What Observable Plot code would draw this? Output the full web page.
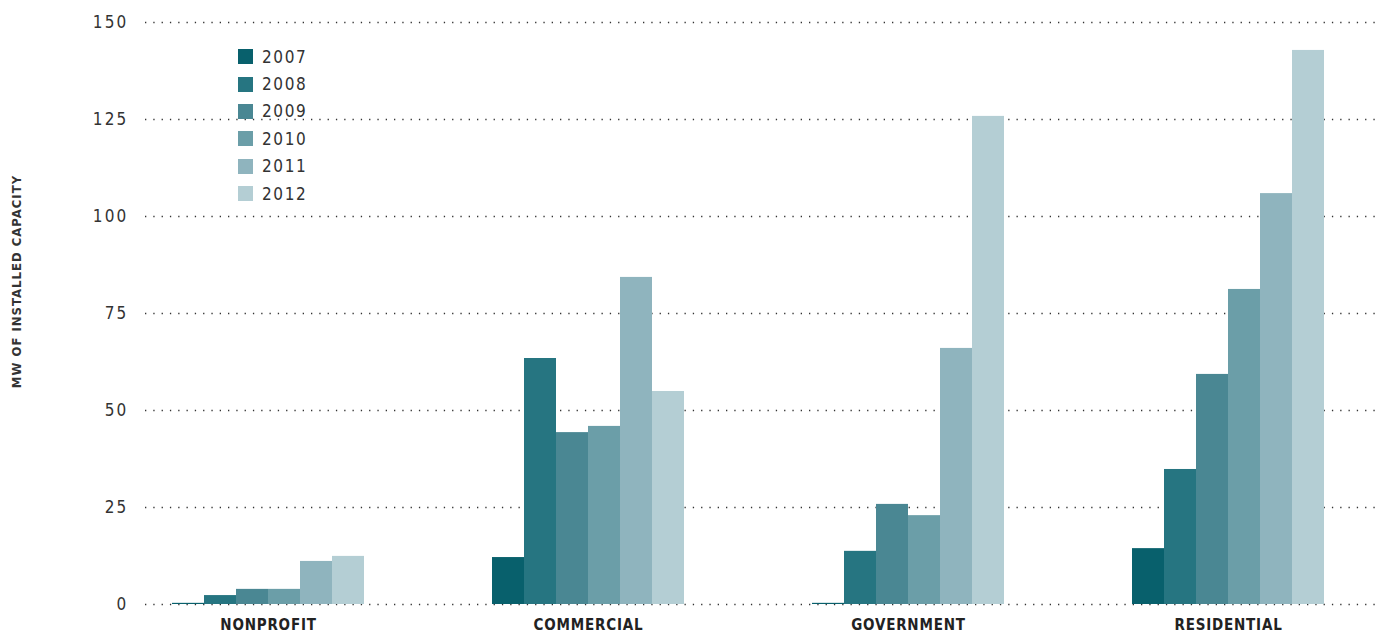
<!DOCTYPE html>
<html>
<head>
<meta charset="utf-8">
<script src="https://cdn.jsdelivr.net/npm/d3@7"></script>
<script src="https://cdn.jsdelivr.net/npm/@observablehq/plot@0.6"></script>
<style>
  html, body { margin: 0; padding: 0; background: #fff; overflow: hidden; }
  #wrap { position: relative; width: 1383px; height: 634px; }
  #wrap > svg { position: absolute; left: 0; top: 0; overflow: visible; }
  #legend { position: absolute; left: 238px; top: 43px; font-family: "Liberation Sans Narrow", "DejaVu Sans Condensed", sans-serif; font-size: 17px; color: #333; letter-spacing: 1.6px; }
  #legend .row { display: flex; align-items: center; height: 27.4px; }
  #legend .sw { width: 15px; height: 15px; margin-right: 9px; }
</style>
</head>
<body>
<div id="wrap"></div>
<script>
const categories = ["NONPROFIT", "COMMERCIAL", "GOVERNMENT", "RESIDENTIAL"];
const years = ["2007", "2008", "2009", "2010", "2011", "2012"];
const nonprofit   = [0.3, 2.3, 3.9, 3.9, 11.1, 12.4];
const commercial  = [12.1, 63.4, 44.3, 45.9, 84.3, 54.9];
const government  = [0.3, 13.7, 25.8, 22.9, 66.0, 125.8];
const residential = [14.4, 34.8, 59.3, 81.2, 105.9, 142.8];
const yTicks = [0, 25, 50, 75, 100, 125, 150];
const colors = ["#08606c", "#267581", "#4a8793", "#6b9ea8", "#8fb4be", "#b4ced4"];
const yTitle = "MW OF INSTALLED CAPACITY";

const series = [nonprofit, commercial, government, residential];
const rows = [];
categories.forEach((c, i) => years.forEach((y, j) => rows.push({cat: c, year: y, value: series[i][j]})));

const W = 1383, H = 634, MT = 22, MB = 30;
const font = '"Liberation Sans Narrow", "DejaVu Sans Condensed", sans-serif';

const grid = Plot.plot({
  width: W, height: H,
  marginTop: MT, marginBottom: MB, marginLeft: 145, marginRight: 8,
  style: {fontFamily: font, fontSize: "17px", color: "#333", background: "transparent"},
  x: {axis: null, domain: [0, 1]},
  y: {domain: [0, 150], ticks: yTicks, tickSize: 0, tickPadding: 17, label: null},
  marks: [
    Plot.ruleY(yTicks, {stroke: "#333", strokeWidth: 1.3, strokeDasharray: "1.3,7"}),
    Plot.text([yTitle], {frameAnchor: "left", textAnchor: "middle", rotate: -90, dx: -129, dy: -32, fontSize: 13, fontWeight: "bold", fill: "#333"})
  ]
});

const bars = Plot.plot({
  width: W, height: H,
  marginTop: MT, marginBottom: MB, marginLeft: 107, marginRight: -5,
  style: {fontFamily: font, fontSize: "15px", color: "#222", background: "transparent"},
  y: {domain: [0, 150], axis: null},
  x: {domain: years, paddingInner: 0, paddingOuter: 2, axis: null},
  fx: {domain: categories, padding: 0, axis: "bottom", label: null, tickSize: 0, tickPadding: 15},
  color: {domain: years, range: colors},
  marks: [
    Plot.barY(rows, {fx: "cat", x: "year", y: "value", fill: "year", inset: 0})
  ]
});

const wrap = document.getElementById("wrap");
wrap.appendChild(grid);
wrap.appendChild(bars);
d3.select(grid).selectAll("text").style("letter-spacing", "2.2px");
d3.select(grid).selectAll("text").filter(function() { return this.textContent === yTitle; }).style("letter-spacing", "1px");
d3.select(bars).selectAll("text").style("font-weight", "bold").style("letter-spacing", "0.8px");

const legend = document.createElement("div");
legend.id = "legend";
years.forEach((y, i) => {
  const r = document.createElement("div");
  r.className = "row";
  const s = document.createElement("div");
  s.className = "sw";
  s.style.background = colors[i];
  const t = document.createElement("span");
  t.textContent = y;
  r.appendChild(s); r.appendChild(t);
  legend.appendChild(r);
});
wrap.appendChild(legend);
</script>
</body>
</html>
